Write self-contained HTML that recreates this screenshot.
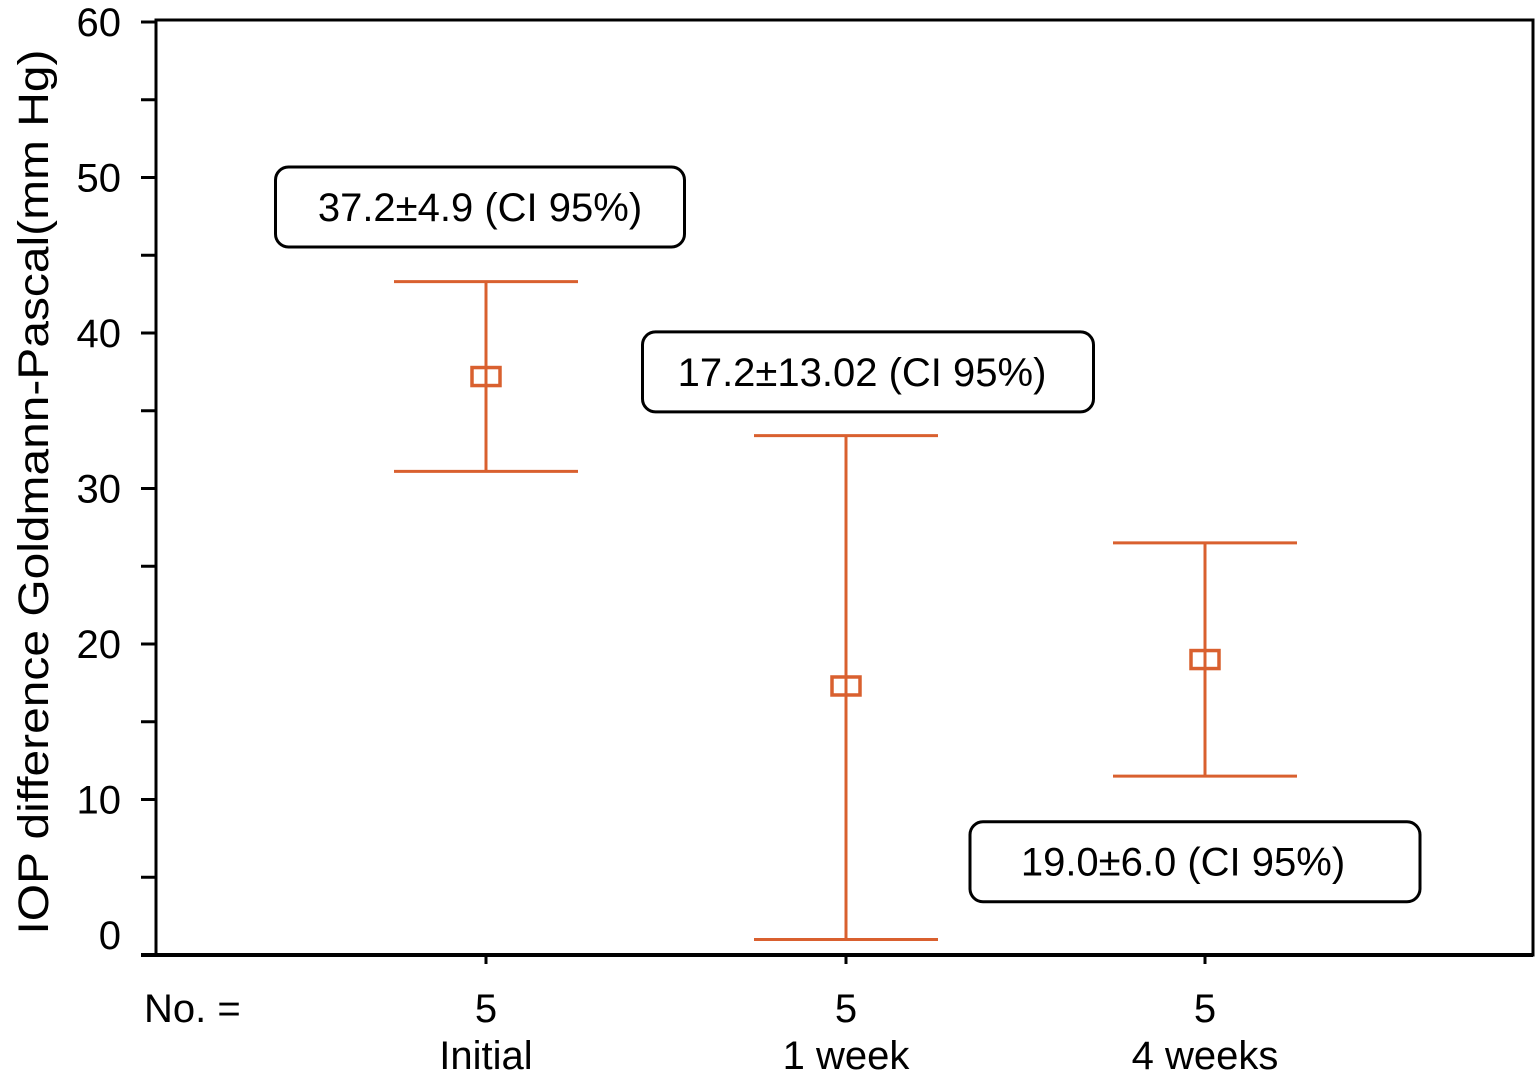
<!DOCTYPE html>
<html><head><meta charset="utf-8"><style>
html,body{margin:0;padding:0;background:#fff;}
svg{display:block;font-family:"Liberation Sans",Arial,sans-serif;}
</style></head><body>
<svg id="chart" width="1536" height="1091" viewBox="0 0 1536 1091"></svg>
<script>
const categories=["Initial","1 week","4 weeks"];
const counts=["5","5","5"];
const means=[37.2,17.3,19.0];
const upper=[43.3,33.4,26.5];
const lower=[31.1,1.0,11.5];
const labels=["37.2±4.9 (CI 95%)","17.2±13.02 (CI 95%)","19.0±6.0 (CI 95%)"];
const labelY=[48.1,37.5,6.0];
const labelX=[480,868,1195];
const textX=[480,862,1183];
const yTicks=[0,10,20,30,40,50,60];

const NS="http://www.w3.org/2000/svg";
const svg=document.getElementById('chart');
const x0=156,x1=1533,yTop=22,yBot=955;
const y=v=>yBot-(v/60)*(yBot-yTop);
const xPos=[486,846,1205];
const x=i=>xPos[i];
function mk(t,a,p){const e=document.createElementNS(NS,t);for(const k in a)e.setAttribute(k,a[k]);(p||svg).appendChild(e);return e;}
const col="#d9602f";

let f=mk('rect',{x:x0,y:20,width:x1-x0,height:yBot-20,fill:'none',stroke:'#000','stroke-width':3});


let xa=mk('line',{x1:141,y1:yBot,x2:x1,y2:yBot,stroke:'#000','stroke-width':4});



for(let v=0;v<=60;v+=5){
  const t=mk('line',{x1:141,y1:y(v),x2:x0,y2:y(v),stroke:'#000','stroke-width':3});
  
  
}
yTicks.forEach(v=>{
  const t=mk('text',{x:121,y:y(v)+14-(v===0?20:0),'text-anchor':'end','font-size':40});
  t.textContent=v;
  
  
});
const yt=mk('text',{x:0,y:0,transform:'translate(48,492) rotate(-90)','text-anchor':'middle','font-size':43,textLength:885,lengthAdjust:'spacingAndGlyphs'});
yt.textContent="IOP difference Goldmann-Pascal(mm Hg)";



const nl=mk('text',{x:144,y:1022,'font-size':40});
nl.textContent="No. =";



categories.forEach((c,i)=>{
  const cx=x(i);
  const tk=mk('line',{x1:cx,y1:yBot,x2:cx,y2:964,stroke:'#000','stroke-width':3});
  
  
  const n=mk('text',{x:cx,y:1022,'text-anchor':'middle','font-size':40});
  n.textContent=counts[i];
  
  
  const cl=mk('text',{x:cx,y:1069,'text-anchor':'middle','font-size':40});
  cl.textContent=c;
  
  

  const g=mk('g',{});
  
  
  mk('line',{x1:cx,y1:y(upper[i]),x2:cx,y2:y(lower[i]),stroke:col,'stroke-width':3},g);
  mk('line',{x1:cx-92,y1:y(upper[i]),x2:cx+92,y2:y(upper[i]),stroke:col,'stroke-width':3},g);
  mk('line',{x1:cx-92,y1:y(lower[i]),x2:cx+92,y2:y(lower[i]),stroke:col,'stroke-width':3},g);
  const m=mk('rect',{x:cx-14,y:y(means[i])-9,width:28,height:18,fill:'none',stroke:col,'stroke-width':3.5});
  
  

  const lb=mk('g',{});
  
  
  const w=[409,451,450][i];
  const ly=y(labelY[i]);
  mk('rect',{x:labelX[i]-w/2,y:ly-40,width:w,height:80,rx:13,fill:'#fff',stroke:'#000','stroke-width':3},lb);
  const tt=mk('text',{x:textX[i],y:ly+14,'text-anchor':'middle','font-size':40},lb);
  tt.textContent=labels[i];
});
</script>
</body></html>
